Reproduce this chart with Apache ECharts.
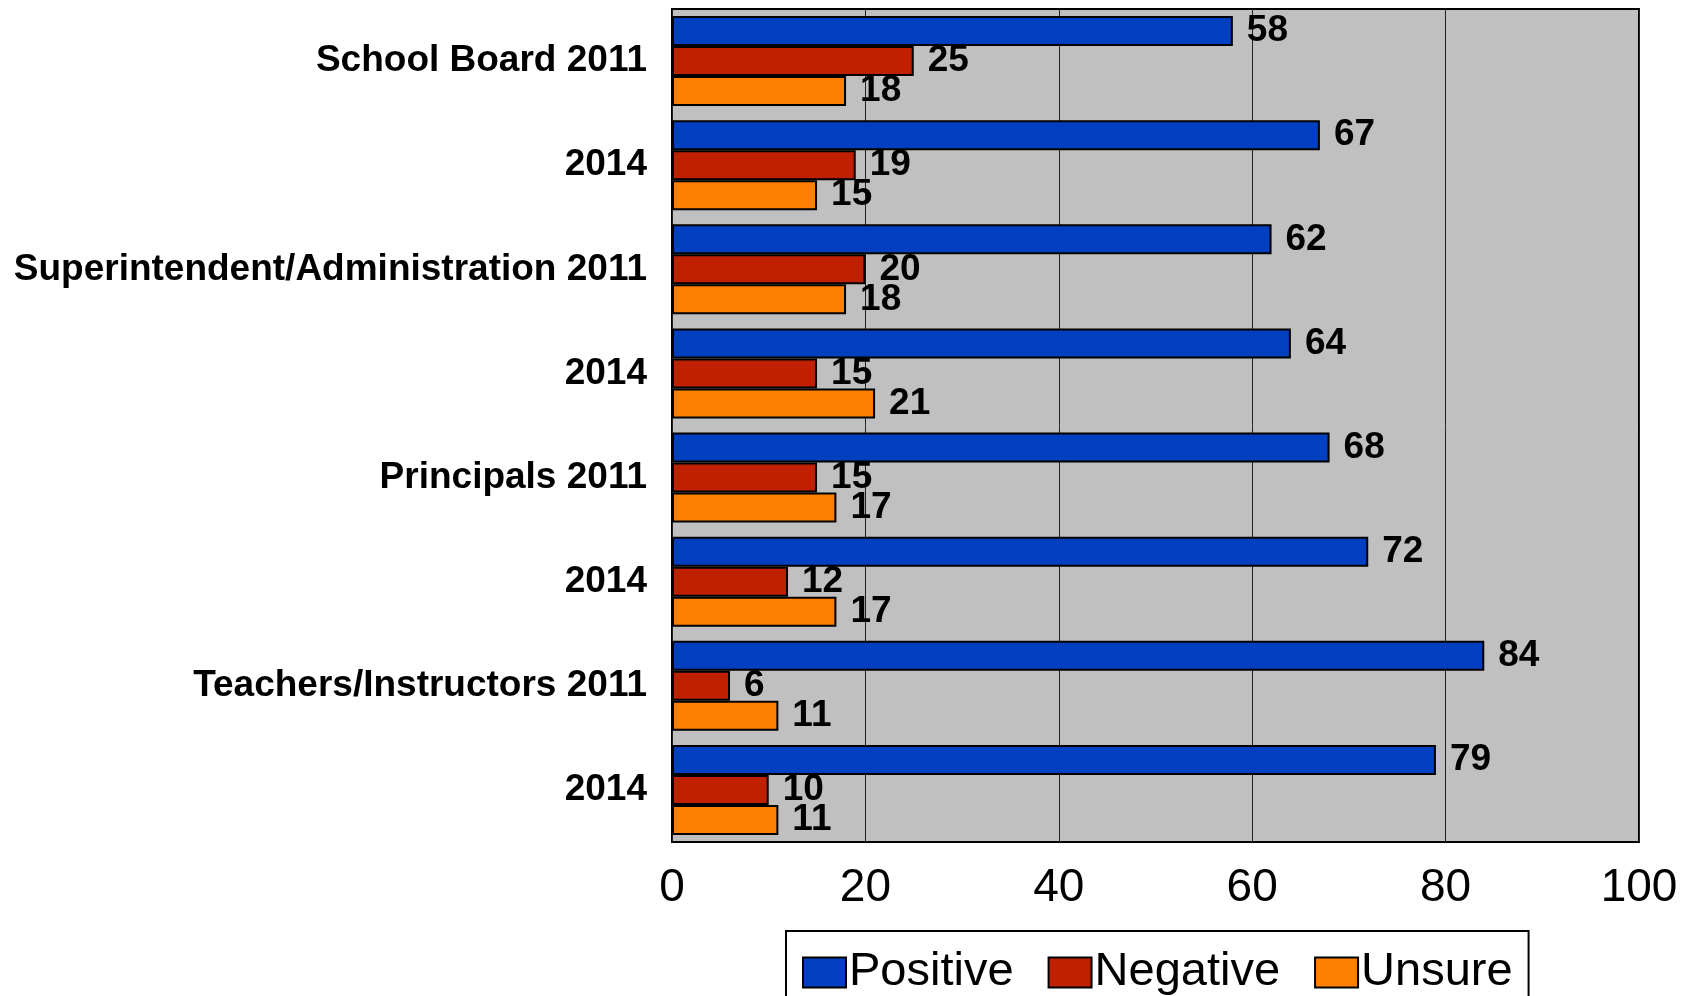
<!DOCTYPE html>
<html>
<head>
<meta charset="utf-8">
<script src="https://cdn.jsdelivr.net/npm/echarts@6/dist/echarts.min.js"></script>
<style>
html,body{margin:0;padding:0;background:#fff;}
#chart{width:1696px;height:996px;}
</style>
</head>
<body>
<div id="chart"></div>
<script>
const categories = ["School Board 2011", "2014", "Superintendent/Administration 2011", "2014", "Principals 2011", "2014", "Teachers/Instructors 2011", "2014"];
const positive = [58, 67, 62, 64, 68, 72, 84, 79];
const negative = [25, 19, 20, 15, 15, 12, 6, 10];
const unsure = [18, 15, 18, 21, 17, 17, 11, 11];
const xTicks = [0, 20, 40, 60, 80, 100];

const FONT = "'Liberation Sans', Arial, sans-serif";
const chart = echarts.init(document.getElementById('chart'), null, {renderer: 'canvas'});

function barSeries(name, data, color) {
  return {
    name: name,
    type: 'bar',
    data: data,
    barWidth: 30,
    barGap: '0%',
    itemStyle: {color: color, borderColor: '#000', borderWidth: 2},
    label: {
      show: true,
      position: 'right',
      distance: 14,
      color: '#000',
      fontWeight: 'bold',
      fontSize: 37,
      fontFamily: FONT
    },
    emphasis: {disabled: true},
    animation: false
  };
}

chart.setOption({
  backgroundColor: '#fff',
  animation: false,
  grid: {
    left: 672, right: 57, top: 9, bottom: 154,
    show: true,
    backgroundColor: '#C0C0C0',
    borderColor: '#000',
    borderWidth: 2
  },
  legend: {
    show: true,
    data: ['Positive', 'Negative', 'Unsure'],
    left: 786,
    top: 931,
    orient: 'horizontal',
    itemWidth: 43,
    itemHeight: 30,
    itemGap: 34,
    icon: 'rect',
    padding: [18, 16, 40, 16],
    borderColor: '#000',
    borderWidth: 2,
    textStyle: {fontSize: 47, color: '#000', fontFamily: FONT, padding: [0, 0, 0, -2]}
  },
  xAxis: {
    type: 'value',
    min: xTicks[0],
    max: xTicks[xTicks.length - 1],
    interval: 20,
    axisLine: {show: false},
    axisTick: {show: false},
    splitLine: {show: true, lineStyle: {color: '#222', width: 1}},
    axisLabel: {fontSize: 46, color: '#000', margin: 23, fontFamily: FONT}
  },
  yAxis: {
    type: 'category',
    data: categories,
    inverse: true,
    axisLine: {show: false},
    axisTick: {show: false},
    splitLine: {show: false},
    axisLabel: {fontSize: 37, fontWeight: 'bold', color: '#000', margin: 25, fontFamily: FONT}
  },
  series: [
    barSeries('Positive', positive, '#0040C0'),
    barSeries('Negative', negative, '#C02000'),
    barSeries('Unsure', unsure, '#FF8000')
  ]
});
</script>
</body>
</html>
